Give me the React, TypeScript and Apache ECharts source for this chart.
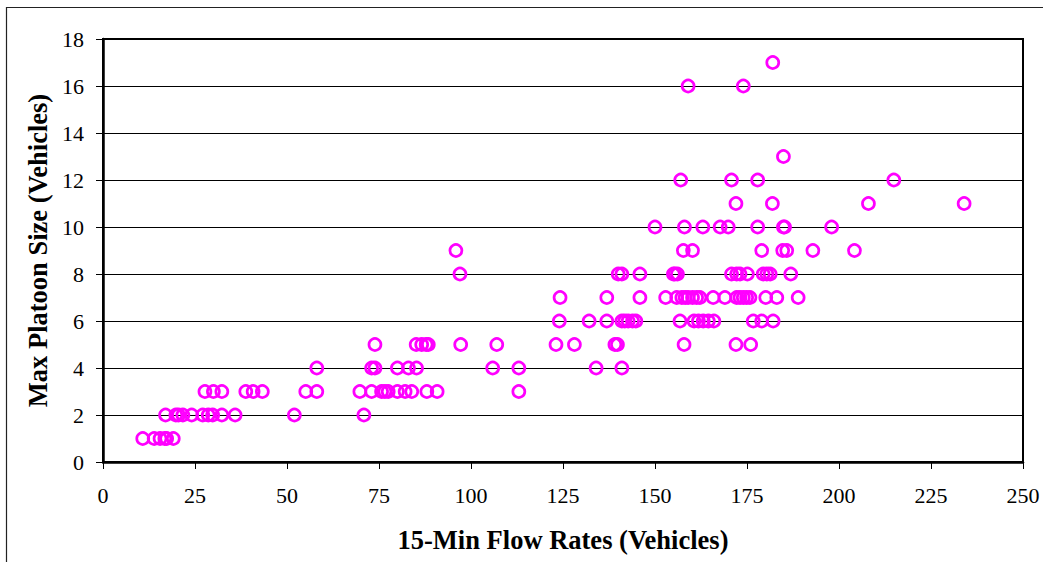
import React, { useEffect, useRef } from "react";
import * as echarts from "echarts";

// 15-min flow rates (vehicles), grouped by max platoon size
const flowsSize1 = [10.8, 13.9, 15.5, 16.8, 17.3, 19.1];
const flowsSize2 = [17.0, 19.8, 20.5, 21.7, 24.1, 27.1, 28.6, 29.8, 32.3, 35.9, 52.0, 70.9];
const flowsSize3 = [27.7, 30.0, 32.3, 38.8, 40.8, 43.3, 55.1, 58.1, 69.8, 73.0, 75.7, 76.6, 77.5, 80.0, 82.1, 83.9, 88.0, 90.8, 113.0];
const flowsSize4 = [58.1, 73.0, 73.9, 80.0, 83.0, 85.2, 105.9, 113.0, 134.0, 141.0];
const flowsSize5 = [73.9, 85.1, 86.6, 87.8, 88.4, 97.2, 107.0, 123.1, 128.1, 139.1, 139.8, 157.9, 172.0, 176.0];
const flowsSize6 = [124.0, 132.1, 136.9, 141.0, 141.8, 142.7, 143.9, 144.8, 156.8, 160.6, 161.8, 163.1, 164.5, 166.0, 176.7, 179.0, 182.1];
const flowsSize7 = [124.2, 136.9, 145.9, 152.9, 155.9, 157.3, 158.2, 159.0, 160.2, 161.3, 162.2, 165.8, 169.0, 172.2, 173.1, 174.0, 174.9, 175.8, 180.1, 183.1, 188.9];
const flowsSize8 = [97.0, 140.0, 141.0, 145.9, 155.0, 155.4, 156.1, 170.8, 172.2, 173.1, 175.1, 179.4, 180.4, 181.3, 186.9];
const flowsSize9 = [95.9, 157.7, 160.2, 179.0, 184.7, 185.8, 192.9, 204.2];
const flowsSize10 = [150.0, 158.0, 163.0, 167.7, 169.9, 177.9, 184.9, 185.2, 198.0];
const flowsSize11 = [172.0, 181.9, 208.0, 234.0];
const flowsSize12 = [157.0, 170.8, 177.9, 214.9];
const flowsSize13 = [184.9];
const flowsSize16 = [159.0, 174.0];
const flowsSize17 = [182.0];

const platoonGroups: [number, number[]][] = [
  [1, flowsSize1],
  [2, flowsSize2],
  [3, flowsSize3],
  [4, flowsSize4],
  [5, flowsSize5],
  [6, flowsSize6],
  [7, flowsSize7],
  [8, flowsSize8],
  [9, flowsSize9],
  [10, flowsSize10],
  [11, flowsSize11],
  [12, flowsSize12],
  [13, flowsSize13],
  [16, flowsSize16],
  [17, flowsSize17],
];

const xTitle = "15-Min Flow Rates (Vehicles)";
const yTitle = "Max Platoon Size (Vehicles)";

export default function App() {
  const ref = useRef<HTMLDivElement>(null);

  useEffect(() => {
    if (!ref.current) return;
    const chart = echarts.init(ref.current, null, { renderer: "svg" });
    const data: number[][] = [];
    platoonGroups.forEach(([size, flows]) => {
      flows.forEach((f) => data.push([f, size]));
    });
    const serif = "'Liberation Serif', 'Times New Roman', serif";
    chart.setOption({
      animation: false,
      backgroundColor: "#ffffff",
      textStyle: { fontFamily: serif },
      grid: {
        left: 103,
        right: 20,
        top: 39,
        bottom: 100,
        show: true,
        borderColor: "#000",
        borderWidth: 2,
      },
      graphic: [
        {
          type: "rect",
          shape: { x: 6.5, y: 7.5, width: 1100, height: 700 },
          style: { fill: "none", stroke: "#222", lineWidth: 1.2 },
          silent: true,
          z: -1,
        },
      ],
      xAxis: {
        type: "value",
        min: 0,
        max: 250,
        interval: 25,
        name: xTitle,
        nameLocation: "middle",
        nameGap: 64,
        nameTextStyle: { fontFamily: serif, fontWeight: "bold", fontSize: 26.5, color: "#000" },
        axisLine: { show: true, onZero: false, lineStyle: { color: "#000", width: 2.5 } },
        axisTick: { show: true, inside: false, length: 7, lineStyle: { color: "#000", width: 1 } },
        axisLabel: { fontFamily: serif, fontSize: 22, color: "#000", margin: 22 },
        splitLine: { show: false },
      },
      yAxis: {
        type: "value",
        min: 0,
        max: 18,
        interval: 2,
        name: yTitle,
        nameLocation: "middle",
        nameGap: 52,
        nameTextStyle: { fontFamily: serif, fontWeight: "bold", fontSize: 26.5, color: "#000" },
        axisLine: { show: true, lineStyle: { color: "#000", width: 2.5 } },
        axisTick: { show: true, inside: false, length: 7, lineStyle: { color: "#000", width: 1 } },
        axisLabel: { fontFamily: serif, fontSize: 22, color: "#000", margin: 19 },
        splitLine: { show: true, lineStyle: { color: "#000", width: 1 } },
      },
      series: [
        {
          type: "scatter",
          data,
          symbol: "circle",
          symbolSize: 12,
          itemStyle: {
            color: "rgba(0,0,0,0)",
            borderColor: "#ff00ff",
            borderWidth: 2.7,
            opacity: 1,
          },
        },
      ],
    });
    return () => chart.dispose();
  }, []);

  return (
    <div
      ref={ref}
      style={{ position: "fixed", left: 0, top: 0, width: 1043, height: 562, background: "#fff" }}
    />
  );
}
